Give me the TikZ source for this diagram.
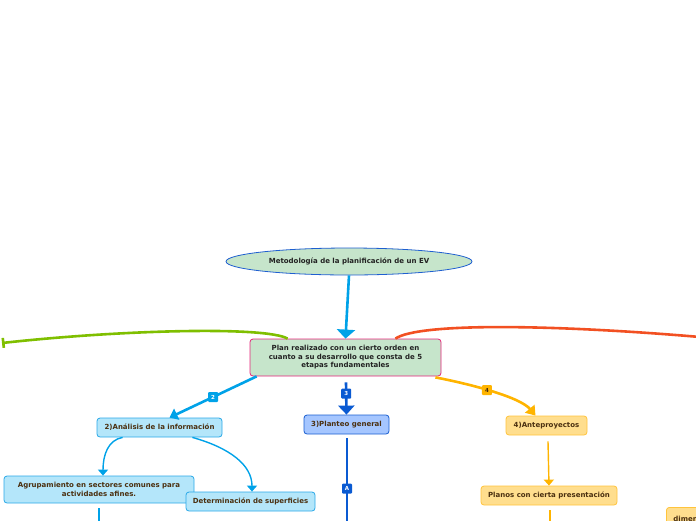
\documentclass[tikz,border=0pt]{standalone}
\usepackage{fontspec}
\setmainfont{DejaVu Sans}
\usetikzlibrary{arrows.meta,shapes.geometric,calc}
\definecolor{elfill}{HTML}{C6E5CB}
\definecolor{elbord}{HTML}{1F5FD0}
\definecolor{cyanl}{HTML}{00A2E8}
\definecolor{mainbord}{HTML}{E6247A}
\definecolor{twofill}{HTML}{B4E6FA}
\definecolor{twobord}{HTML}{2AA8E8}
\definecolor{threefill}{HTML}{A5C6FF}
\definecolor{threebord}{HTML}{1A5ED0}
\definecolor{bluel}{HTML}{0A5AD2}
\definecolor{fourfill}{HTML}{FFDE8E}
\definecolor{fourbord}{HTML}{FFC43C}
\definecolor{orangel}{HTML}{FFB400}
\definecolor{greenl}{HTML}{7FBF00}
\definecolor{redl}{HTML}{F25022}
\definecolor{boxtext}{HTML}{4B3010}
\definecolor{maintext}{HTML}{222222}
\tikzset{
  txt/.style={font=\fontsize{7}{8.5}\selectfont\bfseries, align=center, inner sep=0pt},
  box/.style={txt, draw, rounded corners=3pt, line width=0.8pt, text=boxtext},
  twobox/.style={box, fill=twofill, draw=twobord},
  threebox/.style={box, fill=threefill, draw=threebord},
  fourbox/.style={box, fill=fourfill, draw=fourbord},
  tag/.style={font=\fontsize{5.5}{5.5}\selectfont\bfseries, inner sep=0pt, minimum size=10pt, rounded corners=1pt, text=white},
  bigline/.style={line width=2.6pt},
  subline/.style={line width=1.4pt},
}
\begin{document}
\begin{tikzpicture}[x=1pt,y=-1pt]
\useasboundingbox (0,0) rectangle (696,520);
\clip (0,0) rectangle (696,520);
% nodes
\node[txt, ellipse, draw=elbord, fill=elfill, line width=0.8pt, minimum width=246pt, minimum height=27pt, text=maintext] (ev) at (349,261.5) {Metodología de la planificación de un EV};
\node[txt, draw=mainbord, fill=elfill, rounded corners=3pt, line width=0.8pt, minimum width=191pt, minimum height=37pt, text=maintext] (main) at (345.5,357.5) {Plan realizado con un cierto orden en\\cuanto a su desarrollo que consta de 5\\etapas fundamentales};
\node[twobox, minimum width=125pt, minimum height=19pt] (dos) at (159.5,427.5) {2)Análisis de la información};
\node[threebox, minimum width=85pt, minimum height=19pt] (tres) at (346.5,424.5) {3)Planteo general};
\node[fourbox, minimum width=81pt, minimum height=19pt] (cuatro) at (546.5,425.5) {4)Anteproyectos};
\node[twobox, minimum width=190pt, minimum height=27pt] (agru) at (99,489.5) {Agrupamiento en sectores comunes para\\actividades afines.};
\node[twobox, minimum width=129pt, minimum height=19pt] (deter) at (250.5,501.5) {Determinación de superficies};
\node[fourbox, minimum width=136pt, minimum height=19pt] (planos) at (549,495.5) {Planos con cierta presentación};
\node[fourbox, anchor=north west, minimum width=90pt, minimum height=22pt, text width=80pt, align=left] (dimen) at (666,507) {\hspace*{2pt}dimensiones};
% free-end coordinates
\coordinate (gend) at (2,343);
\coordinate (rend) at (700,337);
\coordinate (aend) at (347,525);
\coordinate (agend) at (99,525);
\coordinate (pend) at (550,525);
% connectors
\draw[cyanl, bigline, -{Triangle[width=18pt,length=9pt]}] (ev.south) -- (main.north);
\draw[greenl, bigline, -{Bar[width=10pt]}] ($(main.north west)+(38,0)$) .. controls (265,326) and (120,330) .. (gend);
\draw[redl, bigline] ($(main.north east)+(-46,0)$) .. controls (420,322) and (560,325) .. (rend);
\draw[cyanl, bigline, -{Triangle[width=12pt,length=8pt]}] ($(main.south west)+(7,0)$) -- node[tag, fill=cyanl, pos=0.5] {2} ($(dos.north)+(10,0)$);
\draw[bluel, bigline, -{Triangle[width=16pt,length=9pt]}] ($(main.south)+(0.5,6)$) -- node[tag, fill=bluel, pos=0.35] {3} (tres.north);
\draw[orangel, bigline, -{Triangle[width=12pt,length=9pt]}] ($(main.south east)+(-6,1)$) .. controls (470,384) and (520,397) .. node[tag, fill=orangel, text=boxtext, pos=0.45] {4} ($(cuatro.north)+(-11,0)$);
\draw[bluel, subline] ($(tres.south)+(0.5,4)$) -- node[tag, fill=bluel, pos=0.58] {A} (aend);
\draw[cyanl, subline, -{Triangle[width=10pt,length=6pt]}] ($(dos.south west)+(26,0)$) .. controls (108,440) and (103,455) .. ($(agru.north)+(4,0)$);
\draw[cyanl, subline, -{Triangle[width=10pt,length=6pt]}] ($(dos.south east)+(-30,0)$) .. controls (230,448) and (252,465) .. ($(deter.north)+(1.5,0)$);
\draw[cyanl, subline] ($(agru.south)+(0,5)$) -- (agend);
\draw[orangel, subline, -{Triangle[width=10pt,length=6pt]}] ($(cuatro.south)+(1.5,6)$) -- (planos.north);
\draw[orangel, subline] ($(planos.south)+(1,5)$) -- (pend);
\end{tikzpicture}
\end{document}
